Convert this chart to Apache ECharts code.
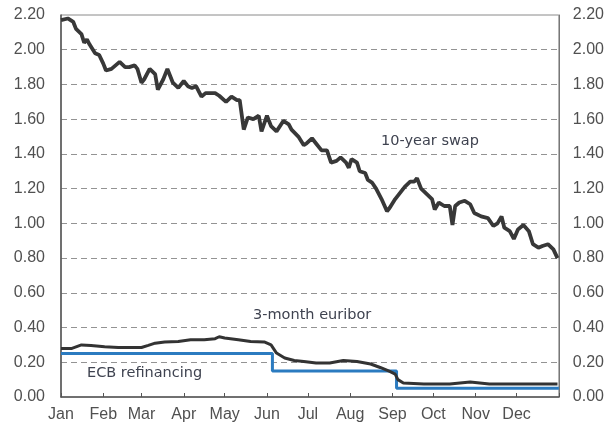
<!DOCTYPE html>
<html>
<head>
<meta charset="utf-8">
<script src="https://cdn.jsdelivr.net/npm/echarts@6/dist/echarts.min.js"></script>
<style>
    html, body { margin: 0; padding: 0; background: #fff; }
    #chart { width: 607px; height: 428px; }
</style>
</head>
<body>
<div id="chart"></div>
<script>
// x = day of year (0 = 1 Jan), y = rate in %
const monthNames = ['Jan', 'Feb', 'Mar', 'Apr', 'May', 'Jun', 'Jul', 'Aug', 'Sep', 'Oct', 'Nov', 'Dec'];
const monthStarts = [0, 31, 59, 90, 120, 151, 181, 212, 243, 273, 304, 334];
const yearEnd = 365;

const swapDays = [0, 5, 9, 11, 15, 17, 19, 21, 25, 28, 31, 33, 37, 40, 43, 47, 50, 54, 56, 59, 61, 65, 69, 71, 75, 78,
    82, 86, 90, 93, 96, 99, 103, 106, 109, 113, 116, 121, 125, 129, 131, 134, 137, 141, 145, 147, 151, 154, 158, 163,
    167, 169, 174, 178, 180, 184, 187, 191, 195, 198, 202, 205, 209, 211, 213, 217, 219, 223, 225, 228, 231, 235, 239,
    241, 245, 248, 252, 256, 259, 261, 264, 268, 272, 274, 277, 281, 285, 287, 289, 292, 296, 300, 303, 308, 313, 317,
    320, 323, 325, 329, 332, 335, 339, 343, 346, 350, 353, 357, 361, 364];
const swapRates = [2.17, 2.18, 2.16, 2.12, 2.09, 2.04, 2.06, 2.03, 1.98, 1.97, 1.92, 1.88, 1.89, 1.91, 1.93, 1.90, 1.90, 1.91, 1.89, 1.81, 1.83, 1.89, 1.86, 1.77, 1.83, 1.89,
    1.81, 1.78, 1.82, 1.79, 1.78, 1.79, 1.73, 1.75, 1.75, 1.75, 1.735, 1.70, 1.73, 1.71, 1.71, 1.54, 1.61, 1.60, 1.62, 1.53, 1.62, 1.56, 1.53, 1.59,
    1.57, 1.54, 1.50, 1.45, 1.46, 1.49, 1.46, 1.42, 1.42, 1.35, 1.36, 1.38, 1.35, 1.32, 1.37, 1.35, 1.30, 1.29, 1.25, 1.235, 1.20, 1.14, 1.07,
    1.09, 1.14, 1.17, 1.21, 1.24, 1.24, 1.26, 1.20, 1.17, 1.14, 1.08, 1.12, 1.10, 1.10, 0.99, 1.10, 1.12, 1.13, 1.11, 1.06, 1.04, 1.03, 0.985,
    1.00, 1.04, 0.975, 0.955, 0.91, 0.965, 0.99, 0.955, 0.88, 0.86, 0.87, 0.88, 0.85, 0.80];

const euriborDays = [0, 8, 15, 22, 32, 42, 52, 59, 64, 69, 76, 86, 95, 105, 113, 116, 120, 130, 139, 149, 154, 158, 164, 171,
    178, 187, 197, 207, 217, 227, 234, 241, 245, 247, 251, 266, 285, 300, 314, 339, 364];
const euriborRates = [0.28, 0.28, 0.30, 0.297, 0.29, 0.285, 0.285, 0.285, 0.297, 0.31, 0.317, 0.32, 0.33, 0.33, 0.336, 0.347, 0.34, 0.33, 0.32, 0.317, 0.30, 0.253, 0.225, 0.21,
    0.205, 0.196, 0.196, 0.21, 0.205, 0.19, 0.17, 0.147, 0.132, 0.10, 0.08, 0.075, 0.075, 0.086, 0.075, 0.075, 0.075];

const ecbDays = [0, 155, 246, 365];
const ecbRates = [0.25, 0.15, 0.05, 0.05];

const yTicks = [0, 2.2, 0.2];

const zip = (xs, ys) => xs.map((x, i) => [x, ys[i]]);

const chart = echarts.init(document.getElementById('chart'));

const labelStyle = {
    color: '#505050',
    fontFamily: 'Liberation Sans, Arial, sans-serif',
    fontSize: 16
};
const noteFont = '14.5px "DejaVu Sans", sans-serif';

chart.setOption({
    animation: false,
    grid: {
        left: 61, right: 48, top: 15, bottom: 31,
        show: true,
        borderColor: '#8a8a8a',
        borderWidth: 1
    },
    xAxis: {
        type: 'value',
        min: 0,
        max: yearEnd,
        axisLine: { lineStyle: { color: '#555', width: 1.5 } },
        axisTick: {
            inside: true,
            length: 4,
            customValues: monthStarts.concat([yearEnd]),
            lineStyle: { color: '#555' }
        },
        axisLabel: {
            ...labelStyle,
            margin: 10,
            customValues: monthStarts,
            formatter: v => monthNames[monthStarts.indexOf(v)]
        },
        splitLine: { show: false }
    },
    yAxis: [{
        type: 'value',
        min: yTicks[0],
        max: yTicks[1],
        interval: yTicks[2],
        axisLine: { show: true, lineStyle: { color: '#555', width: 1.5 } },
        axisTick: { show: false },
        axisLabel: { ...labelStyle, margin: 16, formatter: v => v.toFixed(2) },
        splitLine: {
            show: true,
            showMinLine: false,
            showMaxLine: false,
            lineStyle: { color: '#939393', type: [6, 4], width: 1 }
        }
    }, {
        type: 'value',
        position: 'right',
        min: yTicks[0],
        max: yTicks[1],
        interval: yTicks[2],
        axisLine: { show: true, lineStyle: { color: '#777', width: 1 } },
        axisTick: { show: false },
        axisLabel: { ...labelStyle, margin: 14, formatter: v => v.toFixed(2) },
        splitLine: { show: false }
    }],
    series: [{
        name: 'ECB refinancing',
        type: 'line',
        step: 'end',
        data: zip(ecbDays, ecbRates),
        showSymbol: false,
        lineStyle: { color: '#2b7bc0', width: 3 }
    }, {
        name: '3-month euribor',
        type: 'line',
        data: zip(euriborDays, euriborRates),
        showSymbol: false,
        lineStyle: { color: '#333', width: 3 }
    }, {
        name: '10-year swap',
        type: 'line',
        data: zip(swapDays, swapRates),
        showSymbol: false,
        lineStyle: { color: '#383838', width: 3.8 }
    }],
    graphic: [
        { type: 'text', left: 381, top: 134, style: { text: '10-year swap', fill: '#3f4350', font: noteFont } },
        { type: 'text', left: 253, top: 308, style: { text: '3-month euribor', fill: '#3f4350', font: noteFont } },
        { type: 'text', left: 87, top: 366, style: { text: 'ECB refinancing', fill: '#3f4350', font: noteFont } }
    ]
});
</script>
</body>
</html>
